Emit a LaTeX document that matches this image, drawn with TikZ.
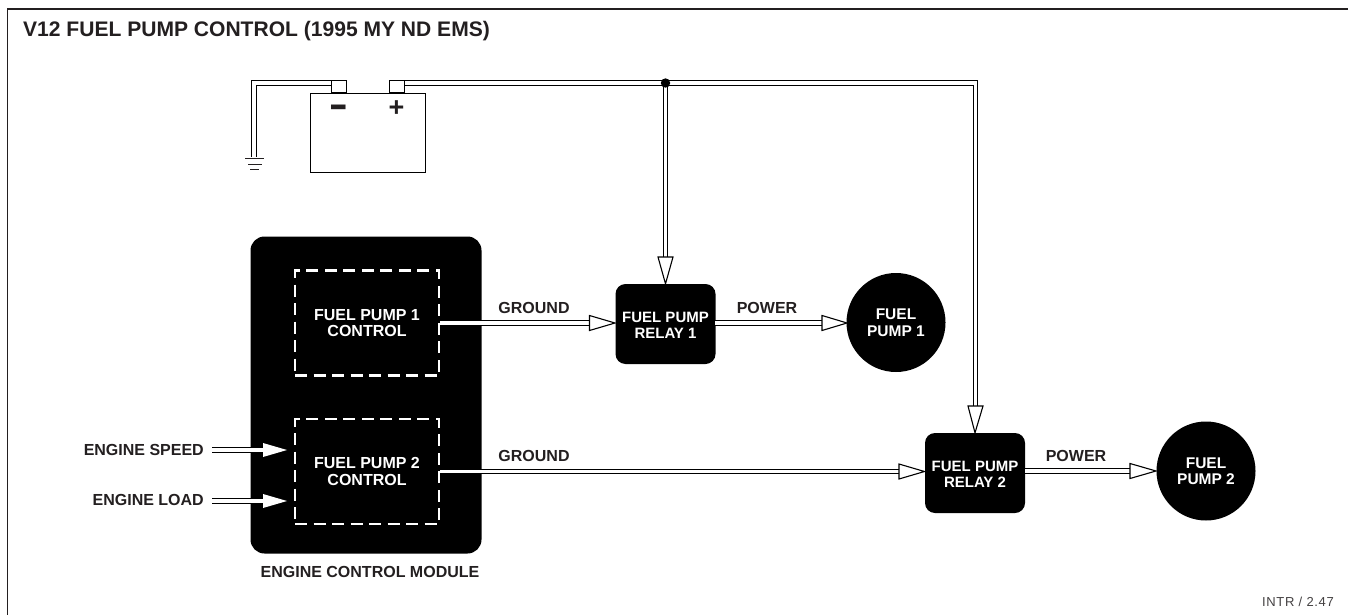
\documentclass[tikz,border=0pt]{standalone}
\usepackage{fontspec}
\setmainfont{Liberation Sans}
\newfontfamily\symfont{DejaVu Sans}
\definecolor{ink}{HTML}{231F20}
\tikzset{
  blk/.style={fill=black,draw=none,text=white,font=\bfseries\fontsize{15}{16.5}\selectfont,align=center,inner sep=0pt},
  lbl/.style={text=ink,font=\bfseries\fontsize{16}{16}\selectfont,inner sep=0pt},
  dashbox/.style={draw=white,line width=2.2pt,dash pattern=on 12pt off 6.5pt,fill=black,text=white,font=\bfseries\fontsize{16}{16.5}\selectfont,align=center,inner sep=0pt},
  wo/.style={draw=black,line width=5.6pt,line cap=butt},
  wi/.style={draw=white,line width=3.2pt,line cap=butt},
  headb/.style={fill=white,draw=black,line width=1.1pt,line join=miter},
  termbox/.style={draw=black,fill=white,line width=1pt,minimum width=15pt,minimum height=12pt,inner sep=0pt},
}
\begin{document}
\begin{tikzpicture}[x=1pt,y=-1pt]
\useasboundingbox (0,0) rectangle (1348,615);
\fill[white] (0,0) rectangle (1348,615);
\draw[ink,line width=1.5pt] (7.5,615) -- (7.5,9.2) -- (1348,9.2);
\node[lbl,anchor=west,font=\bfseries\fontsize{21.05}{21}\selectfont] (title) at (23,31.5) {V12 FUEL PUMP CONTROL (1995 MY ND EMS)};
\node[anchor=east,text=ink!85,inner sep=0pt,font=\fontsize{13}{13}\selectfont\addfontfeatures{LetterSpace=5}] (tag) at (1334,602) {INTR / 2.47};
% battery
\node[draw,line width=0.9pt,minimum width=115pt,minimum height=79pt,inner sep=0pt] (bat) at (367.5,132.5) {};
% ground
\coordinate (gt) at (254,83);
\coordinate (gb) at (254,157);
\coordinate (nw) at (332,83);
\draw[wo,line join=miter] (nw) -- (gt) -- (gb);
\draw[wi,line join=miter] (nw) -- (gt) -- (gb);
\draw[ink,line width=1pt] (245,158) -- (264,158) (248,164) -- (262,164) (250,169) -- (259,169);
% module
\node[blk,rounded corners=14pt,minimum width=231pt,minimum height=317pt] (ecm) at (366,395) {};
\node[dashbox,minimum width=144pt,minimum height=105pt] (c1) at (367,323) {FUEL PUMP 1\\CONTROL};
\node[dashbox,minimum width=144pt,minimum height=105pt] (c2) at (367,471.5) {FUEL PUMP 2\\CONTROL};
\node[lbl] (ecml) at (370,572) {ENGINE CONTROL MODULE};
% relays and pumps
\node[blk,rounded corners=10pt,minimum width=100pt,minimum height=80pt] (r1) at (665.5,324) {};
\node[blk,rounded corners=10pt,minimum width=100pt,minimum height=80pt] (r2) at (975,473) {};
\node[text=white,font=\bfseries\fontsize{15}{16.5}\selectfont,align=center,inner sep=0pt] (r1t) at (665.5,325.5) {FUEL PUMP\\RELAY 1};
\node[text=white,font=\bfseries\fontsize{15}{16.5}\selectfont,align=center,inner sep=0pt] (r2t) at (975,474.5) {FUEL PUMP\\RELAY 2};
\node[blk,circle,minimum size=99pt,font=\bfseries\fontsize{15.5}{16.5}\selectfont] (p1) at (896,322.5) {FUEL\\PUMP 1};
\node[blk,circle,minimum size=99pt,font=\bfseries\fontsize{15.5}{16.5}\selectfont] (p2) at (1206,471) {FUEL\\PUMP 2};
% supply
\coordinate (dot) at (665.5,83);
\coordinate (pw) at (403,83);
\coordinate (cn) at (975.5,83);
\coordinate (h1) at (665.5,257);
\coordinate (h2) at (975.5,406);
\draw[wo,line join=miter] (pw) -- (cn) -- (h2);
\draw[wi,line join=miter] (pw) -- (cn) -- (h2);
\draw[wo] (dot) -- (h1);
\draw[wi] (665.5,86) -- (h1);
\fill[black] (dot) circle (4.7pt);
\draw[headb] (658,257) -- (673,257) -- (r1.north) -- cycle;
\draw[headb] (968,406) -- (983,406) -- (r2.north) -- cycle;
% battery terminals and signs
\node[termbox] (tneg) at (338.5,87) {};
\node[termbox] (tpos) at (396.5,87) {};
\node[lbl,font=\symfont\bfseries\fontsize{37}{37}\selectfont] (minus) at (338.5,111) {–};
\node[lbl,font=\bfseries\fontsize{27}{27}\selectfont] (plus) at (396.5,109) {+};
% horizontal wires
\coordinate (s1a) at (440,323);\coordinate (s1b) at (590,323);
\coordinate (s2a) at (440,471.5);\coordinate (s2b) at (900,471.5);
\coordinate (s3a) at (715,323);\coordinate (s3b) at (822,323);
\coordinate (s4a) at (1025,471);\coordinate (s4b) at (1131,471);
\foreach \a/\b in {s1a/s1b,s2a/s2b,s3a/s3b,s4a/s4b}{
  \draw[wo] (\a) -- (\b);
  \draw[wi] (\a) -- (\b);}
\draw[headb] (589.5,315.5) -- (589.5,330.5) -- (615,323) -- cycle;
\draw[headb] (899,464) -- (899,479) -- (924.5,471.5) -- cycle;
\draw[headb] (822,315.5) -- (822,330.5) -- (847,323) -- cycle;
\draw[headb] (1130,463.5) -- (1130,478.5) -- (1156,471) -- cycle;
% labels
\node[lbl] (gl1) at (534,308) {GROUND};
\node[lbl] (gl2) at (534,456) {GROUND};
\node[lbl] (pl1) at (767,308) {POWER};
\node[lbl] (pl2) at (1076,456) {POWER};
% inputs
\node[lbl,anchor=east] (es) at (204,450) {ENGINE SPEED};
\node[lbl,anchor=east] (el) at (204,500) {ENGINE LOAD};
\coordinate (ea) at (212,450);\coordinate (eb) at (263,450);
\coordinate (la) at (212,501);\coordinate (lb) at (263,501);
\foreach \a/\b in {ea/eb,la/lb}{
  \draw[wo] (\a) -- (\b);
  \draw[wi] (\a) -- (\b);}
\fill[white] (263,443) -- (263,457) -- (287,450) -- cycle;
\fill[white] (263,494) -- (263,508) -- (287,501) -- cycle;
\end{tikzpicture}
\end{document}
